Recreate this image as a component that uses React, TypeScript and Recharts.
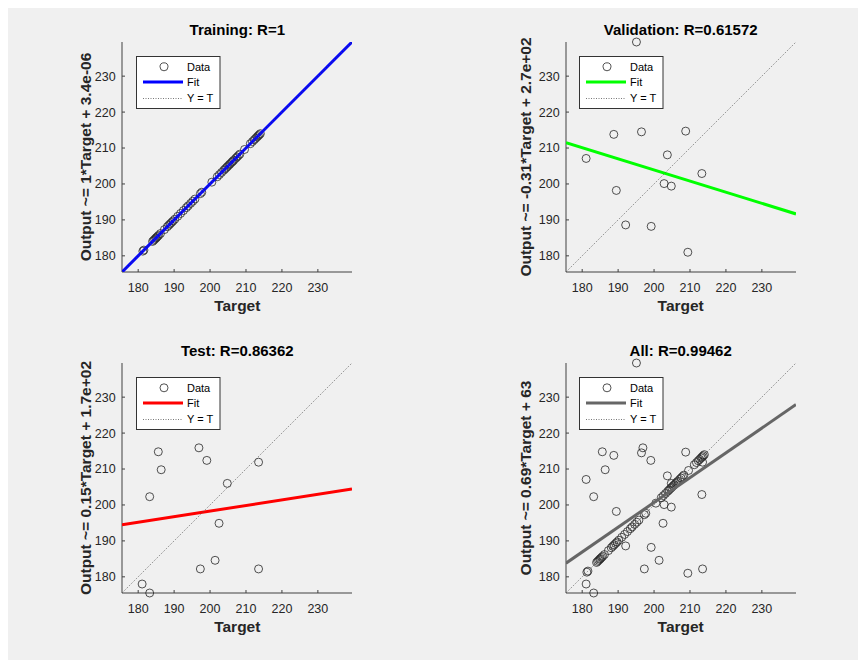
import {
  ScatterChart,
  Scatter,
  XAxis,
  YAxis,
  ReferenceLine,
} from "recharts";

// axis limits (min/max of all targets and outputs) and ticks
const axisMin = 175.5;
const axisMax = 239.5;
const ticks = [180, 190, 200, 210, 220, 230];

// training set: outputs match targets (R=1)
const trainTargets = [
  181.3, 181.6, 184.0, 184.3, 184.6, 184.9, 185.1, 185.4, 185.7, 186.2,
  187.3, 188.1, 188.5, 188.9, 189.3, 189.7, 190.2, 191.0, 191.8, 192.6,
  193.4, 193.9, 194.6, 195.2, 195.8, 197.3, 197.7, 200.5, 202.0, 202.6,
  203.2, 203.8, 204.2, 204.6, 204.9, 205.3, 205.6, 206.0, 206.3, 206.6,
  207.1, 207.5, 207.9, 208.3, 209.6, 211.2, 211.8, 212.3, 212.7, 213.1,
  213.4, 213.7, 214.0,
];
const trainOutputs = [
  181.3, 181.6, 184.0, 184.3, 184.6, 184.9, 185.1, 185.4, 185.7, 186.2,
  187.3, 188.1, 188.5, 188.9, 189.3, 189.7, 190.2, 191.0, 191.8, 192.6,
  193.4, 193.9, 194.6, 195.2, 195.8, 197.3, 197.7, 200.5, 202.0, 202.6,
  203.2, 203.8, 204.2, 204.6, 204.9, 205.3, 205.6, 206.0, 206.3, 206.6,
  207.1, 207.5, 207.9, 208.3, 209.6, 211.2, 211.8, 212.3, 212.7, 213.1,
  213.4, 213.7, 214.0,
];

const valTargets = [195.1, 181.1, 188.8, 189.5, 192.1, 196.5, 199.2, 202.8, 203.7, 204.8, 208.8, 209.4, 213.3];
const valOutputs = [239.5, 207.1, 213.8, 198.2, 188.6, 214.5, 188.2, 200.1, 208.1, 199.4, 214.7, 181.0, 202.9];

const testTargets = [181.1, 183.2, 183.2, 185.6, 186.4, 196.9, 199.1, 197.3, 201.4, 202.5, 204.8, 213.5, 213.5];
const testOutputs = [178.0, 175.5, 202.3, 214.8, 209.8, 215.9, 212.4, 182.2, 184.6, 194.9, 206.0, 211.9, 182.2];

// fit lines: Output ~= slope*Target + intercept
const panelNames = ["Training", "Validation", "Test", "All"];
const panelR = ["1", "0.61572", "0.86362", "0.99462"];
const fitSlopes = [1, -0.31, 0.155, 0.69];
const fitIntercepts = [3.4e-6, 265.9, 167.3, 62.7];
const fitLabels = ["1*Target + 3.4e-06", "-0.31*Target + 2.7e+02", "0.15*Target + 1.7e+02", "0.69*Target + 63"];
const fitColors = ["#0000ff", "#00ff00", "#ff0000", "#666666"];

const FONT = '"Liberation Sans", Arial, Helvetica, sans-serif';
const AX = "#404040";

const toPoints = (t: number[], o: number[]) => t.map((x, i) => ({ x, y: o[i] }));

const panelData = [
  toPoints(trainTargets, trainOutputs),
  toPoints(valTargets, valOutputs),
  toPoints(testTargets, testOutputs),
  toPoints(
    [...trainTargets, ...valTargets, ...testTargets],
    [...trainOutputs, ...valOutputs, ...testOutputs],
  ),
];

// plot box positions inside the grey figure
const boxes = [
  { left: 114.3, top: 34.3, ylab: 36 },
  { left: 557.7, top: 34.3, ylab: 39.5 },
  { left: 114.3, top: 354.7, ylab: 36.5 },
  { left: 557.7, top: 354.7, ylab: 40 },
];
const BOX = 230;

function LegendBox({ color }: { color: string }) {
  return (
    <svg width={85} height={54} style={{ position: "absolute", left: 0, top: 0 }}>
      <rect x={0.5} y={0.5} width={83.5} height={52} fill="#fff" stroke="#333" strokeWidth={1} />
      <circle cx={28} cy={10.8} r={4} fill="none" stroke="#262626" strokeWidth={0.8} />
      <text x={51} y={14.6} fontSize={11} fontFamily={FONT} fill="#000">Data</text>
      <line x1={7} x2={47} y1={26} y2={26} stroke={color} strokeWidth={3} />
      <text x={51} y={29.8} fontSize={11} fontFamily={FONT} fill="#000">Fit</text>
      <line x1={7} x2={47} y1={42.5} y2={42.5} stroke="#555" strokeWidth={0.8} strokeDasharray="1 1.5" />
      <text x={51} y={46.3} fontSize={11} fontFamily={FONT} fill="#000">Y = T</text>
    </svg>
  );
}

function Panel({ idx }: { idx: number }) {
  const b = boxes[idx];
  const slope = fitSlopes[idx];
  const icpt = fitIntercepts[idx];
  const tickStyle = { fill: "#262626", fontSize: 12.5, fontFamily: FONT };
  return (
    <>
      <div
        style={{
          position: "absolute",
          left: b.left - 60,
          top: b.top - 21,
          width: BOX + 120,
          height: 18,
          lineHeight: "18px",
          textAlign: "center",
          fontFamily: FONT,
          fontWeight: "bold",
          fontSize: 15,
          color: "#000",
        }}
      >
        {`${panelNames[idx]}: R=${panelR[idx]}`}
      </div>
      <div
        style={{
          position: "absolute",
          left: b.left - b.ylab - 150,
          top: b.top + BOX / 2 - 10,
          width: 300,
          height: 20,
          lineHeight: "20px",
          textAlign: "center",
          fontFamily: FONT,
          fontWeight: "bold",
          fontSize: 15.5,
          color: "#262626",
          transform: "rotate(-90deg)",
          whiteSpace: "nowrap",
        }}
      >
        {`Output ~= ${fitLabels[idx]}`}
      </div>
      <div
        style={{
          position: "absolute",
          left: b.left,
          top: b.top + BOX + 24,
          width: BOX,
          height: 20,
          lineHeight: "20px",
          textAlign: "center",
          fontFamily: FONT,
          fontWeight: "bold",
          fontSize: 15.5,
          color: "#262626",
        }}
      >
        Target
      </div>
      <div style={{ position: "absolute", left: b.left - 70, top: b.top - 40 }}>
        <ScatterChart
          width={320}
          height={330}
          margin={{ top: 40, right: 20, left: 30, bottom: 30 }}
        >
          <XAxis
            xAxisId="b"
            type="number"
            dataKey="x"
            domain={[axisMin, axisMax]}
            ticks={ticks}
            height={30}
            tick={tickStyle}
            tickSize={-3}
            tickMargin={14}
            stroke={AX}
          />
          <XAxis
            xAxisId="t"
            orientation="top"
            type="number"
            domain={[axisMin, axisMax]}
            ticks={ticks}
            allowDataOverflow
            height={0}
            tick={false}
            tickSize={-3}
            stroke={AX}
          />
          <YAxis
            yAxisId="l"
            type="number"
            dataKey="y"
            domain={[axisMin, axisMax]}
            ticks={ticks}
            width={40}
            tick={tickStyle}
            tickSize={-3}
            tickMargin={9.3}
            stroke={AX}
          />
          <YAxis
            yAxisId="r"
            orientation="right"
            type="number"
            domain={[axisMin, axisMax]}
            ticks={ticks}
            allowDataOverflow
            width={0}
            tick={false}
            tickSize={-3}
            stroke={AX}
          />
          <Scatter
            xAxisId="b"
            yAxisId="l"
            data={panelData[idx]}
            isAnimationActive={false}
            shape={(p: any) => (
              <circle cx={p.cx} cy={p.cy} r={4} fill="none" stroke="#262626" strokeWidth={0.8} />
            )}
          />
          <ReferenceLine
            xAxisId="b"
            yAxisId="l"
            ifOverflow="hidden"
            zIndex={700}
            segment={[
              { x: axisMin, y: slope * axisMin + icpt },
              { x: axisMax, y: slope * axisMax + icpt },
            ]}
            stroke={fitColors[idx]}
            strokeWidth={3}
          />
          <ReferenceLine
            xAxisId="b"
            yAxisId="l"
            ifOverflow="hidden"
            zIndex={710}
            segment={[
              { x: axisMin, y: axisMin },
              { x: axisMax, y: axisMax },
            ]}
            stroke="#555"
            strokeWidth={0.8}
            strokeDasharray="1 1.5"
          />
        </ScatterChart>
      </div>
      <div
        style={{
          position: "absolute",
          left: b.left + 13.5,
          top: b.top + 14,
          width: 85,
          height: 54,
        }}
      >
        <LegendBox color={fitColors[idx]} />
      </div>
    </>
  );
}

export default function App() {
  return (
    <div
      style={{
        position: "relative",
        width: 858,
        height: 652,
        background: "#f0f0f0",
        overflow: "hidden",
      }}
    >
      {[0, 1, 2, 3].map((i) => (
        <Panel key={i} idx={i} />
      ))}
    </div>
  );
}
